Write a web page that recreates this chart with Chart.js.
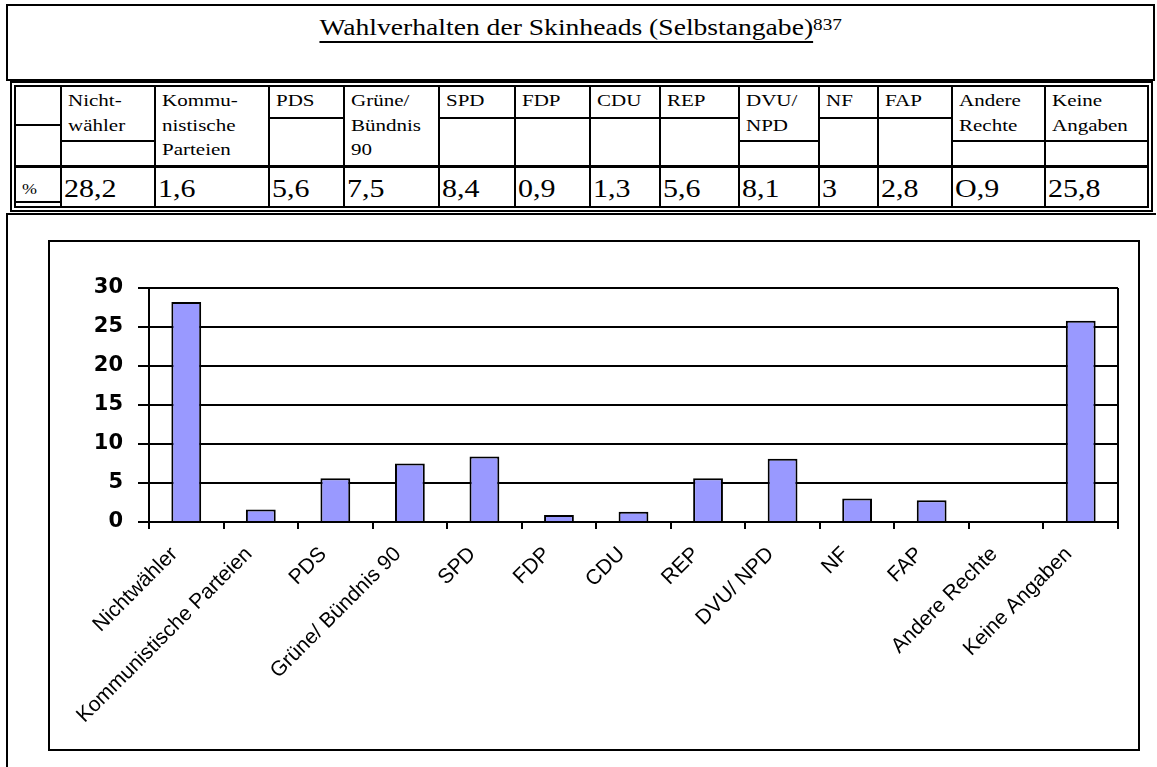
<!DOCTYPE html>
<html lang="de">
<head>
<meta charset="utf-8">
<title>Wahlverhalten der Skinheads</title>
<script src="https://cdn.jsdelivr.net/npm/chart.js@4.4.1/dist/chart.umd.min.js"></script>
<style>
html, body { margin: 0; padding: 0; background: #fff; }
body { position: relative; width: 1157px; height: 767px; overflow: hidden; font-family: "Liberation Serif", "Times New Roman", serif; color: #000; }
.ln { position: absolute; background: #000; }
.box { position: absolute; border: 2px solid #000; box-sizing: border-box; }
.txt { position: absolute; white-space: nowrap; transform-origin: 0 0; }
#titel { position: absolute; left: 6px; width: 1149px; top: 15px; text-align: center; font-size: 23px; line-height: 26px; white-space: nowrap; }
#titel .in { display: inline-block; transform: scaleX(1.2); }
#titel u { text-decoration-thickness: 2px; text-underline-offset: 6px; }
#titel sup { font-size: 16px; vertical-align: 5px; line-height: 0; }
.kopf { font-size: 17.5px; line-height: 24.5px; transform: scaleX(1.2); }
.wert { font-size: 25px; line-height: 28px; transform: scaleX(1.2); }
.proz { font-size: 15px; line-height: 16px; transform: scaleX(1.2); }
#rahmen { position: absolute; left: 48px; top: 240px; width: 1092px; height: 511px; border: 2px solid #000; box-sizing: border-box; }
#rahmen canvas { display: block; }
</style>
</head>
<body>
<div class="box" style="left:6px;top:4px;width:1149px;height:77px;"></div>
<div id="titel"><span class="in"><u>Wahlverhalten der Skinheads (Selbstangabe)</u><sup>837</sup></span></div>
<div class="box" style="left:10px;top:81px;width:1143px;height:131px;"></div>
<div class="box" style="left:14px;top:85px;width:1135px;height:123px;"></div>
<div class="ln" style="left:6px;top:213px;width:1150px;height:2px;"></div>
<div class="ln" style="left:6px;top:213px;width:2px;height:554px;"></div>
<div id="rahmen"><canvas id="wahlChart" width="1088" height="507"></canvas></div>
<script>
// Daten
const categories = ['Nichtwähler', 'Kommunistische Parteien', 'PDS', 'Grüne/ Bündnis 90', 'SPD', 'FDP', 'CDU', 'REP', 'DVU/ NPD', 'NF', 'FAP', 'Andere Rechte', 'Keine Angaben'];
// "Andere Rechte" steht in der Tabelle als "O,9" (Buchstabe O) -> im Diagramm kein Balken
const values = [28.2, 1.6, 5.6, 7.5, 8.4, 0.9, 1.3, 5.6, 8.1, 3, 2.8, null, 25.8];
const tableHeads = [['Nicht-', 'wähler'], ['Kommu-', 'nistische', 'Parteien'], ['PDS'], ['Grüne/', 'Bündnis', '90'], ['SPD'], ['FDP'], ['CDU'], ['REP'], ['DVU/', 'NPD'], ['NF'], ['FAP'], ['Andere', 'Rechte'], ['Keine', 'Angaben']];
const tableText = ['28,2', '1,6', '5,6', '7,5', '8,4', '0,9', '1,3', '5,6', '8,1', '3', '2,8', 'O,9', '25,8'];
const yMin = 0, yMax = 30, yStep = 5;

// Tabelle (Spaltengrenzen und Trennlinien)
const colX = [16, 61, 155, 269, 344, 439, 515, 590, 660, 739, 819, 878, 952, 1045, 1147];
const teilLinie = [124, 140, null, 117, null, 117, 117, 117, 117, 140, 117, 117, 140, 140];

function linie(x, y, w, h) {
    const d = document.createElement('div');
    d.className = 'ln';
    d.style.cssText = 'left:' + x + 'px;top:' + y + 'px;width:' + w + 'px;height:' + h + 'px';
    document.body.appendChild(d);
}
function text(cls, x, y, html) {
    const d = document.createElement('div');
    d.className = 'txt ' + cls;
    d.style.left = x + 'px';
    d.style.top = y + 'px';
    d.innerHTML = html;
    document.body.appendChild(d);
}

for (let i = 1; i < colX.length - 1; i++) linie(colX[i] - 1, 87, 2, 119);
linie(16, 165, 1131, 3);
teilLinie.forEach((y, i) => { if (y) linie(colX[i], y, colX[i + 1] - colX[i], 2); });
linie(16, 201, 45, 2);

text('proz', 22, 181, '%');
tableHeads.forEach((h, i) => text('kopf', colX[i + 1] + 7, 88, h.join('<br>')));
tableText.forEach((t, i) => text('wert', colX[i + 1] + 3, 175, t));

// Diagramm
Chart.defaults.font.family = '"Liberation Sans", Arial, sans-serif';
Chart.defaults.color = '#000';

new Chart(document.getElementById('wahlChart'), {
    type: 'bar',
    data: {
        labels: categories,
        datasets: [{
            data: values,
            backgroundColor: '#9999ff',
            borderColor: '#000',
            borderWidth: 2,
            barPercentage: 0.4,
            categoryPercentage: 1
        }]
    },
    options: {
        responsive: false,
        animation: false,
        devicePixelRatio: 1,
        layout: { padding: { top: 46, right: 20, left: 0, bottom: 0 } },
        plugins: {
            legend: { display: false },
            tooltip: { enabled: false }
        },
        scales: {
            x: {
                grid: {
                    offset: true,
                    // nur die rechte Begrenzung der Zeichenfläche
                    color: ctx => ctx.type === 'scale' ? '#000' : 'rgba(0,0,0,0)',
                    lineWidth: 2,
                    tickColor: '#000',
                    tickWidth: 2,
                    tickLength: 7
                },
                border: { color: '#000', width: 2 },
                ticks: {
                    color: '#000',
                    font: { size: 21 },
                    maxRotation: 45,
                    minRotation: 45,
                    autoSkip: false,
                    padding: 13,
                    labelOffset: -12
                },
                afterFit: s => { s.height = 227; }
            },
            y: {
                min: yMin,
                max: yMax,
                ticks: {
                    stepSize: yStep,
                    color: '#000',
                    font: { family: '"DejaVu Sans", sans-serif', size: 21, weight: 'bold' },
                    padding: 15
                },
                grid: { color: '#000', lineWidth: 2, tickLength: 11 },
                border: { color: '#000', width: 2 },
                afterFit: s => { s.width = 99; }
            }
        }
    }
});
</script>
</body>
</html>
